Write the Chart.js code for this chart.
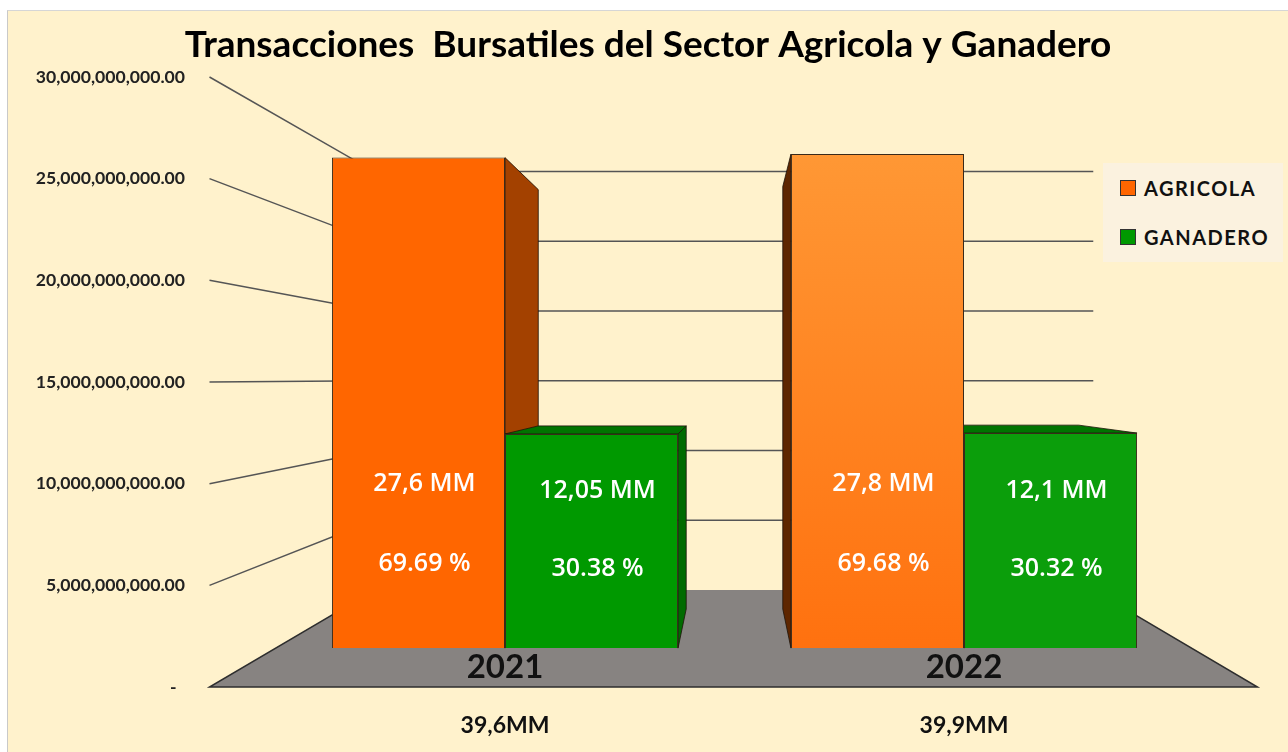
<!DOCTYPE html>
<html>
<head>
<meta charset="utf-8">
<script src="https://cdn.jsdelivr.net/npm/chart.js@4.4.1/dist/chart.umd.min.js"></script>
<style>
  html, body { margin: 0; padding: 0; background: #fff; }
  #frame {
    position: absolute; left: 7px; top: 10px; width: 1281px; height: 742px;
    box-sizing: border-box; background: #FFF2CC;
    border-left: 1px solid #c9c9c9; border-top: 1px solid #d6d6d6;
  }
  #chart { position: absolute; left: 0; top: 0; }
  #legend {
    position: absolute; left: 1095px; top: 152px; width: 180px; height: 99px;
    background: #FBF2DF;
  }
  #legend .item {
    position: absolute; left: 17px; height: 32px; display: flex; align-items: center;
    font: bold 20px Lato, "Noto Sans", sans-serif; letter-spacing: 1.5px; color: #111;
  }
  #legend .swatch {
    width: 14px; height: 14px; border: 1px solid #333; margin-right: 8px;
  }
</style>
</head>
<body>
<div id="frame">
  <canvas id="chart" width="1280" height="741"></canvas>
  <div id="legend"></div>
</div>
<script>
// ── data ─────────────────────────────────────────────────────────────────────
const years       = ['2021', '2022'];
const totals      = ['39,6MM', '39,9MM'];
const agricola    = [27.6e9, 27.8e9];
const ganadero    = [12.05e9, 12.1e9];
const agricolaAmt = ['27,6 MM', '27,8 MM'];
const ganaderoAmt = ['12,05 MM', '12,1 MM'];
const agricolaPct = ['69.69 %', '69.68 %'];
const ganaderoPct = ['30.38 %', '30.32 %'];
const Y_MAX  = 30e9;
const Y_STEP = 5e9;

// ── fake 3D geometry (fractions of the chart area / depth ratios) ───────────
const VP_X = 0.5, VP_Y = 0.494;  // vanishing point
const K_BAR  = 0.126;            // depth of bar front faces
const K_WALL = 0.314;            // depth of back wall
const BAR_R  = 0.855;            // back face scale relative to front face
const FRONT_LEFT = 66, FRONT_RIGHT = 64;

// bars live on their own scale so they sit on the receding floor
const barMin = -Y_MAX * (1 - VP_Y) * K_BAR / (1 - K_BAR);
const barMax =  Y_MAX * ((1 - VP_Y) + VP_Y / (1 - K_BAR));

const faces = [
  { side: '#A34100', sideDark: '#5E2600', top: '#C24E00' },
  { side: '#006B00', sideDark: '#004A00', top: '#007400' },
];

const fmtAxis = v => v === 0 ? '-  ' :
  Number(v).toLocaleString('en-US', { minimumFractionDigits: 2, maximumFractionDigits: 2 });

const box3d = {
  id: 'box3d',
  beforeDatasetsDraw(chart) {
    const { ctx, chartArea: a, scales } = chart;
    const y = scales.y;
    const vp = { x: a.left + (a.right - a.left) * VP_X, y: a.top + (a.bottom - a.top) * VP_Y };
    const fl = a.left - FRONT_LEFT, fr = a.right + FRONT_RIGHT;
    const wall = p => ({ x: p.x + (vp.x - p.x) * K_WALL, y: p.y + (vp.y - p.y) * K_WALL });
    const back = p => ({ x: vp.x + (p.x - vp.x) * BAR_R, y: vp.y + (p.y - vp.y) * BAR_R });
    const poly = (pts, fill) => {
      ctx.beginPath(); ctx.moveTo(pts[0].x, pts[0].y);
      pts.slice(1).forEach(p => ctx.lineTo(p.x, p.y));
      ctx.closePath(); ctx.fillStyle = fill; ctx.fill();
      ctx.strokeStyle = 'rgba(30,20,10,0.8)'; ctx.lineWidth = 1; ctx.stroke();
    };
    ctx.save();

    // floor
    const y0 = y.getPixelForValue(0);
    const bl = wall({ x: fl, y: y0 }), br = wall({ x: fr, y: y0 });
    ctx.beginPath();
    ctx.moveTo(fl, y0); ctx.lineTo(fr, y0); ctx.lineTo(br.x, br.y); ctx.lineTo(bl.x, bl.y); ctx.closePath();
    ctx.fillStyle = '#878381'; ctx.fill();
    ctx.beginPath();
    ctx.moveTo(bl.x, bl.y); ctx.lineTo(fl, y0); ctx.lineTo(fr, y0); ctx.lineTo(br.x, br.y);
    ctx.strokeStyle = '#2e2e2e'; ctx.lineWidth = 1.5; ctx.stroke();

    // side wall + back wall gridlines
    ctx.strokeStyle = '#555'; ctx.lineWidth = 1.5;
    y.ticks.forEach(t => {
      if (t.value === 0) return;
      const py = y.getPixelForValue(t.value);
      const l = wall({ x: fl, y: py }), r = wall({ x: fr, y: py });
      ctx.beginPath();
      ctx.moveTo(fl, py); ctx.lineTo(l.x, l.y); ctx.lineTo(r.x, r.y);
      ctx.stroke();
    });

    // bar sides and tops
    years.forEach((_, i) => {
      chart.data.datasets.forEach((ds, d) => {
        const bar = chart.getDatasetMeta(d).data[i];
        const { x, y: top, base, width } = bar.getProps(['x', 'y', 'base', 'width'], true);
        const x0 = x - width / 2, x1 = x + width / 2;
        const f = faces[d];
        if (x1 < vp.x) {
          poly([{ x: x1, y: top }, { x: x1, y: base }, back({ x: x1, y: base }), back({ x: x1, y: top })], f.side);
        }
        if (x0 > vp.x) {
          poly([{ x: x0, y: top }, { x: x0, y: base }, back({ x: x0, y: base }), back({ x: x0, y: top })], f.sideDark);
        }
        if (top > vp.y) {
          poly([{ x: x0, y: top }, { x: x1, y: top }, back({ x: x1, y: top }), back({ x: x0, y: top })], f.top);
        }
      });
    });
    ctx.restore();
  },
  afterDatasetsDraw(chart) {
    const { ctx } = chart;
    const texts = [[agricolaAmt, agricolaPct], [ganaderoAmt, ganaderoPct]];
    const offs = [[164, 84], [157, 79]];
    ctx.save();
    ctx.fillStyle = '#fff';
    ctx.font = '600 25px "Open Sans", Lato, sans-serif';
    ctx.textAlign = 'center'; ctx.textBaseline = 'middle';
    chart.data.datasets.forEach((ds, d) => {
      chart.getDatasetMeta(d).data.forEach((bar, i) => {
        const { x, base } = bar.getProps(['x', 'base'], true);
        ctx.fillText(texts[d][0][i], x + 6, base - offs[d][0]);
        ctx.fillText(texts[d][1][i], x + 6, base - offs[d][1]);
      });
    });
    ctx.restore();
  }
};

const orange2022 = (c) => {
  const area = c.chart.chartArea;
  if (!area) return '#FF7E1F';
  const g = c.chart.ctx.createLinearGradient(0, area.top + 70, 0, area.bottom);
  g.addColorStop(0, '#FF9835');
  g.addColorStop(1, '#FF6E0C');
  return g;
};

const chart = new Chart(document.getElementById('chart'), {
  type: 'bar',
  data: {
    labels: years,
    datasets: [
      { label: 'AGRICOLA', data: agricola, yAxisID: 'yBar',
        backgroundColor: c => c.dataIndex === 1 ? orange2022(c) : '#FF6600',
        legendColor: '#FF6600' },
      { label: 'GANADERO', data: ganadero, yAxisID: 'yBar',
        backgroundColor: c => c.dataIndex === 1 ? '#0B9E0B' : '#009900',
        legendColor: '#009900' },
    ],
  },
  options: {
    responsive: false,
    animation: false,
    categoryPercentage: 0.754,
    barPercentage: 1.0,
    borderWidth: 1,
    borderColor: '#3a2a1a',
    layout: { padding: 0 },
    plugins: {
      legend: { display: false },
      tooltip: { enabled: false },
      title: {
        display: true,
        text: 'Transacciones  Bursatiles del Sector Agricola y Ganadero',
        color: '#000',
        font: { family: 'Lato', size: 37, weight: 'bold', lineHeight: 1.2 },
        padding: { top: 12, bottom: 9.6 },
      },
    },
    scales: {
      x: {
        position: 'bottom', weight: 0,
        grid: { display: false }, border: { display: false },
        ticks: { z: 1, color: '#111', mirror: true, padding: 0, font: { family: 'Lato', size: 33, weight: 'bold' } },
        afterFit: s => { s.height = 0; },
      },
      x2: {
        type: 'category', labels: totals, position: 'bottom', weight: 1,
        grid: { display: false }, border: { display: false },
        ticks: { z: 1, color: '#111', padding: 17, font: { family: 'Lato', size: 23, weight: 'bold' } },
        afterFit: s => { s.height = 65; },
      },
      y: {
        min: 0, max: Y_MAX, weight: 1,
        grid: { display: false }, border: { display: false },
        ticks: {
          stepSize: Y_STEP, padding: 4, color: '#222',
          font: { family: 'Lato', size: 17.6, weight: 'bold' },
          callback: v => fmtAxis(v),
        },
        afterFit: s => { s.width = 189; },
      },
      yGap: {
        type: 'linear', position: 'left', weight: 0,
        grid: { display: false }, border: { display: false },
        ticks: { display: false },
        afterFit: s => { s.width = 78.5; },
      },
      yBar: {
        position: 'right', min: barMin, max: barMax,
        grid: { display: false }, border: { display: false },
        ticks: { display: false },
        afterFit: s => { s.width = 94.5; },
      },
    },
  },
  plugins: [box3d],
});

// HTML legend from the datasets
const legend = document.getElementById('legend');
chart.data.datasets.forEach((ds, i) => {
  const item = document.createElement('div');
  item.className = 'item';
  item.style.top = (9 + i * 49) + 'px';
  const sw = document.createElement('span');
  sw.className = 'swatch';
  sw.style.background = ds.legendColor;
  item.appendChild(sw);
  item.appendChild(document.createTextNode(ds.label));
  legend.appendChild(item);
});
</script>
</body>
</html>
